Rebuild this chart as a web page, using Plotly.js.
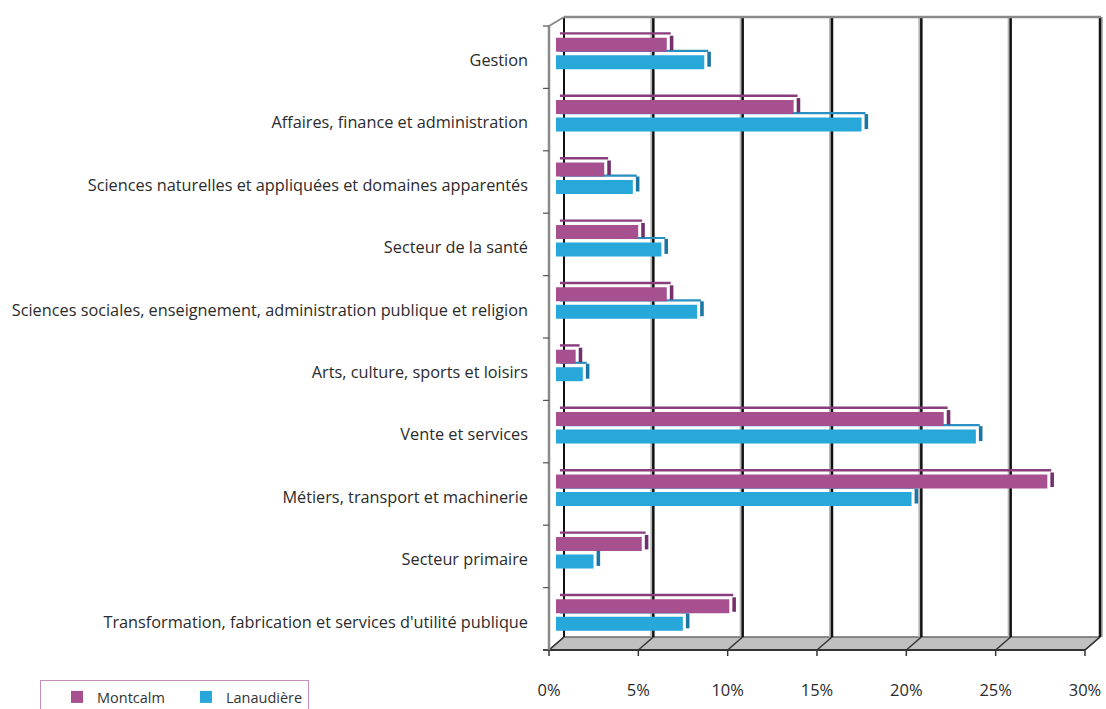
<!DOCTYPE html>
<html>
<head>
<meta charset="utf-8">
<script src="https://cdn.plot.ly/plotly-3.0.1.min.js"></script>
<style>html,body{margin:0;padding:0;background:#fff;}#chart{width:1106px;height:709px;}</style>
</head>
<body>
<div id="chart"></div>
<script>
// ---- Data ----
const categories = [
  "Gestion",
  "Affaires, finance et administration",
  "Sciences naturelles et appliquées et domaines apparentés",
  "Secteur de la santé",
  "Sciences sociales, enseignement, administration publique et religion",
  "Arts, culture, sports et loisirs",
  "Vente et services",
  "Métiers, transport et machinerie",
  "Secteur primaire",
  "Transformation, fabrication et services d'utilité publique"
];
const montcalm   = [6.2, 13.3, 2.7, 4.6, 6.2, 1.1, 21.7, 27.5, 4.8, 9.7];
const lanaudiere = [8.3, 17.1, 4.3, 5.9, 7.9, 1.5, 23.5, 19.9, 2.1, 7.1];
const xTickVals  = [0, 5, 10, 15, 20, 25, 30];
const xTickText  = ["0%", "5%", "10%", "15%", "20%", "25%", "30%"];
const seriesNames = ["Montcalm", "Lanaudière"];

// ---- Styling / geometry ----
const FONT = "'Open Sans', Lato, sans-serif";
const C_M = "#a6508f", C_M_TOP = "#8a3d7d", C_M_SIDE = "#74306a";
const C_L = "#27a7da", C_L_TOP = "#2a8fc2", C_L_SIDE = "#1b76a4";

const L = 556, R = 1092, T = 26, B = 650;         // plot area in px
const W = R - L, H = B - T;
const fx = px => (px - L) / W;
const fy = py => (B - py) / H;
const catPx = H / categories.length;
const u = p => p / catPx;                          // px -> category units
const pxPerPct = W / 30;
const DEPTH_X = 15, DEPTH_Y = 13, FRONT_SHIFT = 7;

const common = {type: "bar", orientation: "h", y: categories, hoverinfo: "skip"};
const traces = [
  Object.assign({}, common, {x: lanaudiere, base: 0.22, offset: u(-7.5), width: u(2.2),
    marker: {color: C_L_TOP}, showlegend: false}),
  Object.assign({}, common, {x: montcalm, base: 0.22, offset: u(-25), width: u(2.4),
    marker: {color: C_M_TOP}, showlegend: false}),
  Object.assign({}, common, {x: lanaudiere.map(() => 0.2), base: lanaudiere.map(v => v + 0.17),
    offset: u(-5.5), width: u(15), marker: {color: C_L_SIDE}, showlegend: false}),
  Object.assign({}, common, {x: montcalm.map(() => 0.2), base: montcalm.map(v => v + 0.17),
    offset: u(-21.5), width: u(14.5), marker: {color: C_M_SIDE}, showlegend: false}),
  Object.assign({}, common, {name: seriesNames[0], x: montcalm, offset: u(-19.5), width: u(14),
    marker: {color: C_M, line: {width: 0}}}),
  Object.assign({}, common, {name: seriesNames[1], x: lanaudiere, offset: u(-2), width: u(14),
    marker: {color: C_L, line: {width: 0}}})
];

// ---- 3D frame decorations (paper coords) ----
const shapes = [];
const line = (x0, y0, x1, y1, color, width) => shapes.push({type: "line", xref: "paper", yref: "paper",
  x0: fx(x0), y0: fy(y0), x1: fx(x1), y1: fy(y1), line: {color: color, width: width}, layer: "below"});
const frontX = v => L - FRONT_SHIFT + v * pxPerPct;
const backX = v => frontX(v) + DEPTH_X;
const backTop = T - 9, backBot = B - DEPTH_Y;

// floor
shapes.push({type: "path", xref: "paper", yref: "paper", layer: "below",
  path: "M " + fx(frontX(0)) + "," + fy(B) + " L " + fx(frontX(30)) + "," + fy(B) +
        " L " + fx(backX(30)) + "," + fy(backBot) + " L " + fx(backX(0)) + "," + fy(backBot) + " Z",
  fillcolor: "#c0c0c0", line: {color: "#6a6a6a", width: 1.5}});
xTickVals.forEach(v => {
  line(frontX(v), B, backX(v), backBot, "#333", 1.5);
  line(frontX(v), B, frontX(v), B + 6, "#333", 1.5);
});
line(frontX(0) - 6, B, frontX(30), B, "#333", 2);
// back wall gridlines
xTickVals.forEach(v => {
  if (v === 0) { line(backX(v), backTop, backX(v), backBot, "#111", 2); return; }
  if (v === 30) {
    line(backX(v) + 2, backTop, backX(v) + 2, backBot, "#b5b5b5", 2);
    line(backX(v), backTop, backX(v), backBot, "#111", 2.5); return; }
  line(backX(v) - 2, backTop, backX(v) - 2, backBot, "#b8b8b8", 2);
  line(backX(v), backTop, backX(v), backBot, "#111", 2.5);
});
// top edge and left wall
line(backX(0), backTop, backX(30) + 1, backTop, "#8a8a8a", 2.5);
line(frontX(0), T, backX(0), backTop, "#8a8a8a", 2);
line(frontX(0), T, frontX(0), B, "#8a8a8a", 2.5);
for (let k = 0; k <= categories.length; k++) {
  const y = T + k * catPx;
  line(frontX(0) - 6, y, frontX(0), y, "#555", 1.2);
}

const layout = {
  width: 1106, height: 709,
  margin: {l: L, r: 1106 - R, t: T, b: 709 - B, pad: 0, autoexpand: false},
  paper_bgcolor: "#ffffff", plot_bgcolor: "rgba(0,0,0,0)",
  barmode: "overlay",
  font: {family: FONT, size: 16, color: "#2b2b2b"},
  xaxis: {range: [0, 30], tickvals: xTickVals, ticktext: xTickText, showgrid: false, zeroline: false,
    showline: false, ticks: "", ticklabelshift: -FRONT_SHIFT, ticklabelstandoff: 28,
    tickfont: {family: FONT, size: 16.5, color: "#2b2b2b"}, fixedrange: true},
  yaxis: {type: "category", range: [categories.length - 0.5, -0.5], showgrid: false, zeroline: false,
    showline: false, ticks: "", ticklabelstandoff: 27, ticklabelshift: -3,
    tickfont: {family: FONT, size: 16.3, color: "#2b2b2b"}, fixedrange: true},
  showlegend: true,
  legend: {orientation: "h", x: fx(40), xanchor: "left", y: fy(680), yanchor: "top",
    bordercolor: "#c58fbd", borderwidth: 1, bgcolor: "#ffffff", indentation: 16,
    font: {family: FONT, size: 14.5, color: "#333"}, traceorder: "normal"},
  shapes: shapes
};

Plotly.newPlot("chart", traces, layout, {displayModeBar: false, staticPlot: true});
</script>
</body>
</html>
